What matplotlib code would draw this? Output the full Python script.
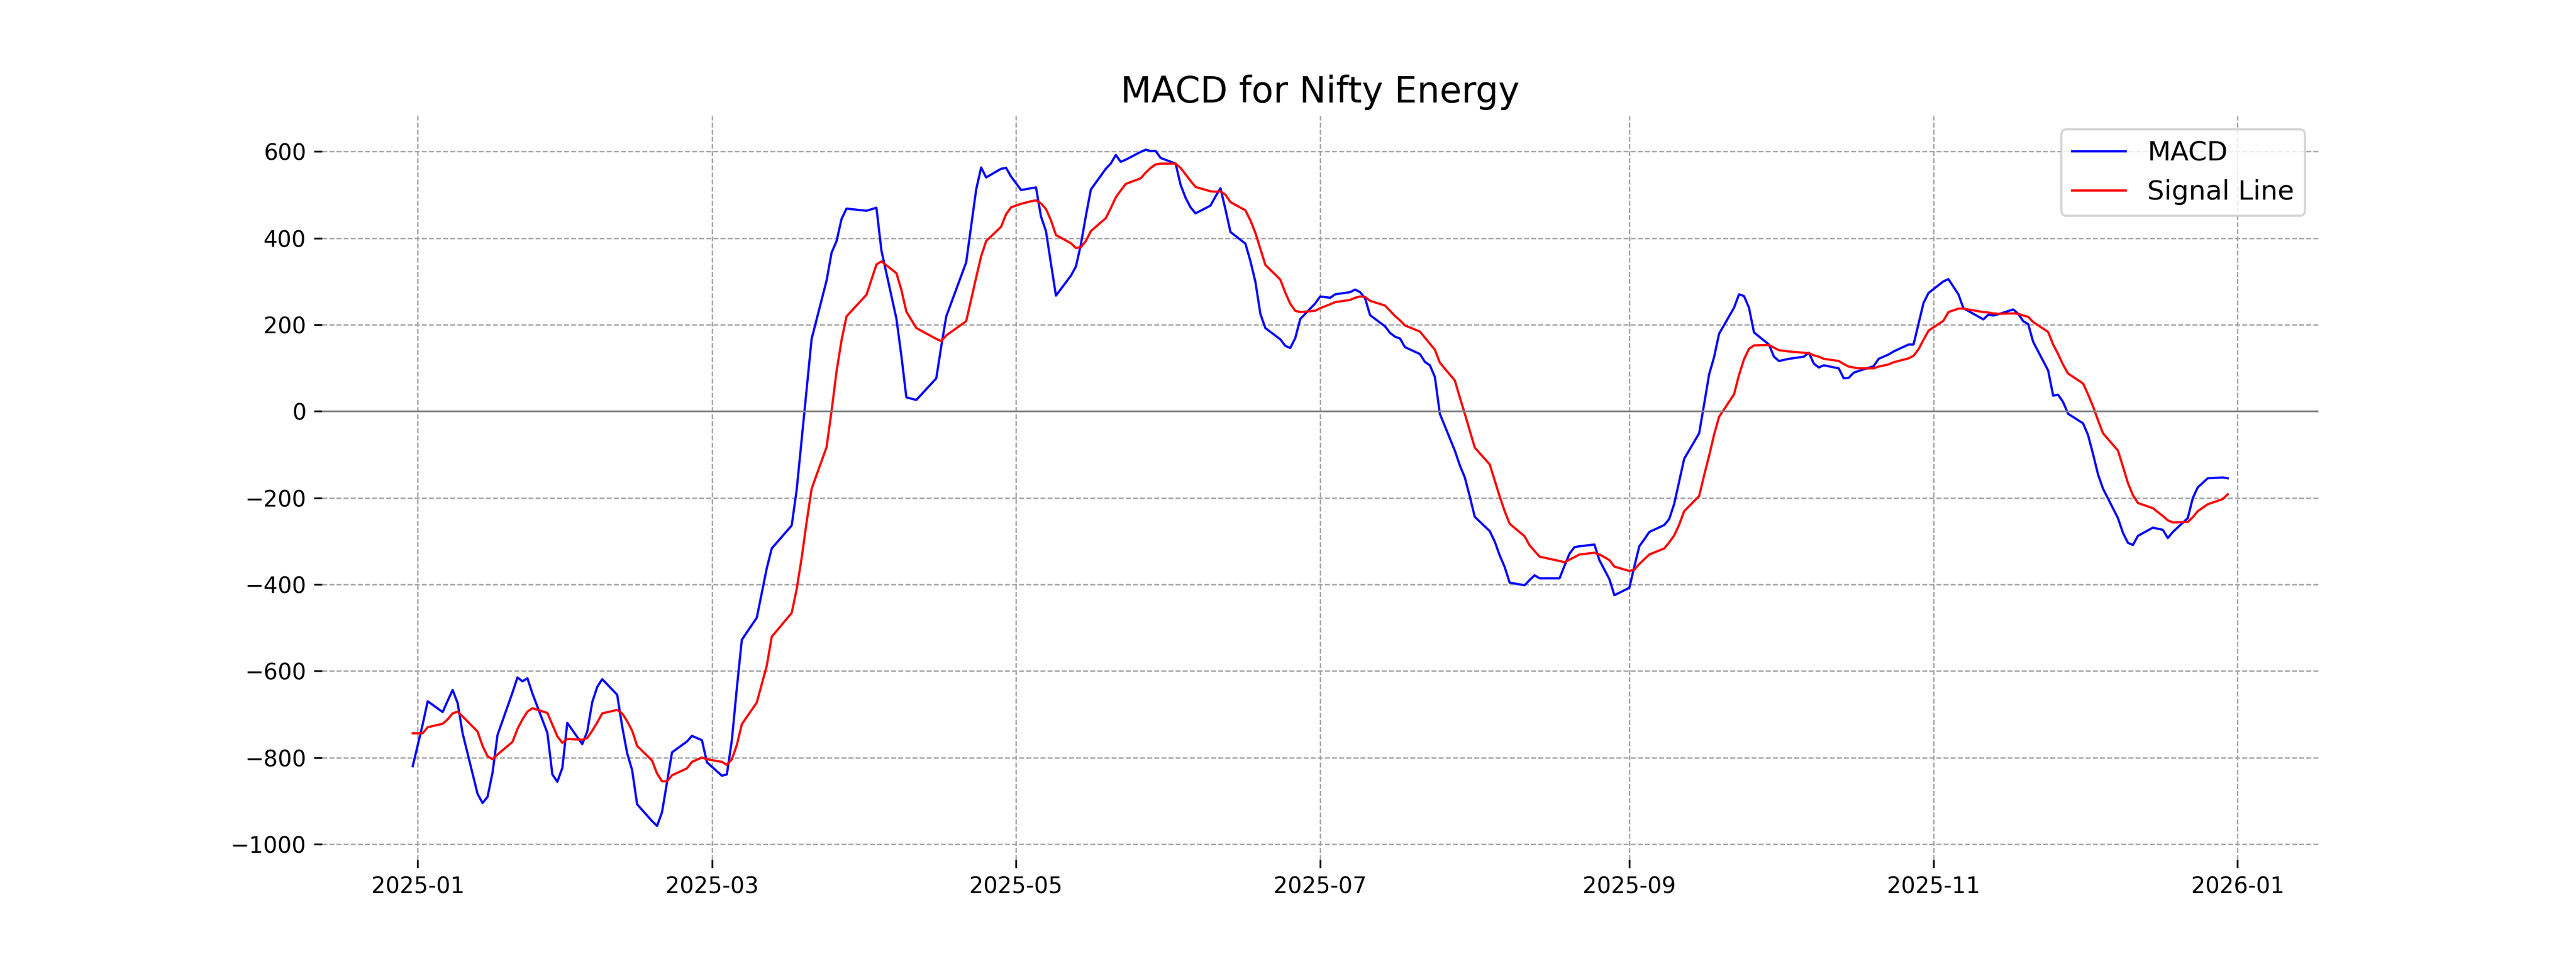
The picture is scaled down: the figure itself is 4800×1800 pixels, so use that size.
import numpy as np
import pandas as pd
from matplotlib import pyplot as plt

# trading days, as day offsets from 2025-01-01
day_offset = [
    -1, 1, 2, 5, 6, 7, 8, 9, 12, 13, 14, 15, 16, 19, 20, 21, 22, 23, 26, 27,
    28, 29, 30, 33, 34, 35, 36, 37, 40, 41, 42, 43, 44, 47, 48, 49, 50, 51, 54, 55,
    57, 58, 61, 62, 63, 64, 65, 68, 70, 71, 75, 76, 77, 78, 79, 82, 83, 84, 85, 86,
    90, 92, 93, 96, 97, 98, 100, 104, 105, 106, 110, 111, 112, 113, 114, 117, 118, 119, 121, 123,
    124, 125, 126, 127, 128, 131, 132, 133, 134, 135, 138, 139, 140, 141, 142, 145, 146, 147, 148, 149,
    152, 153, 154, 155, 156, 159, 160, 161, 162, 163, 166, 167, 168, 169, 170, 173, 174, 175, 176, 177,
    180, 181, 183, 184, 187, 188, 189, 190, 191, 194, 195, 196, 197, 198, 201, 202, 203, 204, 205, 208,
    209, 210, 211, 212, 215, 216, 217, 218, 219, 222, 223, 224, 225, 229, 230, 231, 232, 233, 236, 237,
    238, 239, 240, 243, 244, 245, 246, 247, 250, 251, 252, 253, 254, 257, 258, 259, 260, 261, 264, 265,
    266, 267, 268, 271, 272, 273, 275, 278, 279, 280, 281, 282, 285, 286, 287, 288, 289, 292, 293, 295,
    296, 299, 300, 301, 302, 303, 306, 307, 309, 310, 314, 315, 316, 317, 320, 321, 322, 323, 324, 327,
    328, 329, 330, 331, 334, 335, 336, 337, 338, 341, 342, 343, 344, 345, 348, 350, 351, 352, 355, 356,
    357, 359, 362, 363,
]

macd = [
    -820, -723, -670, -695, -669, -644, -674, -744, -884, -905, -891, -835, -748, -650, -615, -624, -617, -652, -743, -839,
    -856, -824, -720, -769, -740, -672, -637, -619, -655, -728, -790, -829, -908, -947, -958, -926, -857, -788, -763, -750,
    -760, -811, -842, -839, -760, -640, -528, -477, -363, -317, -264, -182, -66, 51, 167, 302, 366, 393, 444, 468,
    463, 470, 371, 214, 128, 32, 26, 76, 150, 219, 344, 428, 512, 563, 540, 560, 562, 542, 511, 515,
    517, 450, 416, 341, 267, 313, 334, 385, 451, 512, 560, 572, 592, 576, 581, 599, 604, 601, 601, 585,
    572, 523, 493, 471, 457, 475, 496, 515, 466, 414, 387, 347, 299, 225, 192, 166, 151, 146, 169, 213,
    249, 265, 262, 270, 275, 281, 275, 261, 222, 196, 181, 172, 168, 148, 132, 114, 106, 79, -6, -91,
    -125, -153, -197, -244, -277, -301, -333, -360, -396, -402, -390, -379, -386, -386, -357, -329, -314, -312, -308, -344,
    -366, -388, -425, -408, -359, -312, -296, -279, -263, -249, -214, -162, -110, -51, 16, 85, 125, 179, 239, 270,
    266, 239, 182, 154, 126, 116, 121, 126, 135, 110, 101, 106, 99, 76, 77, 89, 93, 104, 121, 131,
    138, 154, 154, 202, 250, 273, 300, 305, 270, 238, 212, 223, 221, 224, 235, 225, 208, 201, 160, 94,
    36, 38, 21, -6, -28, -55, -99, -146, -179, -247, -281, -304, -309, -288, -269, -274, -293, -279, -247, -201,
    -176, -155, -153, -155,
]

signal = [
    -744, -744, -730, -722, -712, -698, -694, -705, -740, -773, -797, -804, -793, -764, -734, -712, -694, -686, -697, -724,
    -751, -766, -757, -759, -755, -738, -719, -698, -690, -698, -716, -738, -773, -807, -837, -855, -855, -841, -825, -810,
    -800, -804, -810, -817, -804, -771, -723, -673, -588, -521, -466, -411, -339, -256, -179, -83, 1, 92, 164, 219,
    269, 339, 346, 319, 280, 230, 192, 167, 162, 175, 208, 258, 309, 358, 393, 426, 455, 471, 479, 485,
    487, 480, 467, 441, 407, 388, 377, 379, 393, 416, 446, 469, 494, 510, 525, 538, 551, 562, 570, 572,
    572, 562, 547, 532, 518, 508, 507, 508, 500, 483, 464, 441, 412, 375, 338, 304, 274, 248, 232, 229,
    232, 238, 247, 252, 257, 262, 265, 264, 255, 244, 232, 220, 210, 198, 184, 170, 156, 142, 112, 71,
    32, -6, -45, -84, -123, -160, -197, -231, -260, -289, -310, -323, -336, -346, -349, -343, -337, -331, -327, -331,
    -337, -344, -359, -369, -366, -353, -342, -331, -317, -303, -287, -262, -231, -196, -148, -103, -54, -13, 39, 84,
    120, 144, 152, 153, 147, 141, 138, 135, 134, 129, 126, 121, 116, 109, 103, 101, 99, 99, 103, 108,
    113, 122, 128, 143, 165, 186, 209, 229, 237, 237, 229, 228, 226, 225, 226, 225, 221, 218, 206, 183,
    154, 132, 107, 87, 64, 39, 11, -21, -51, -91, -128, -166, -194, -212, -224, -242, -252, -257, -256, -245,
    -231, -215, -203, -192,
]

dates = pd.Timestamp('2025-01-01') + pd.to_timedelta(day_offset, unit='D')

fig, ax = plt.subplots(figsize=(16, 6), dpi=300)
ax.plot(dates, macd, label='MACD', color='blue', linewidth=1)
ax.plot(dates, signal, label='Signal Line', color='red', linewidth=1)
ax.axhline(0, color='gray', linewidth=0.8)

ax.set_title('MACD for Nifty Energy', fontsize=16)
ax.legend(loc='upper right', fontsize=12)
ax.grid(True, linestyle='--', linewidth=0.6, color='#a0a0a0')
for spine in ax.spines.values():
    spine.set_visible(False)

plt.savefig('out.png', dpi=300)
